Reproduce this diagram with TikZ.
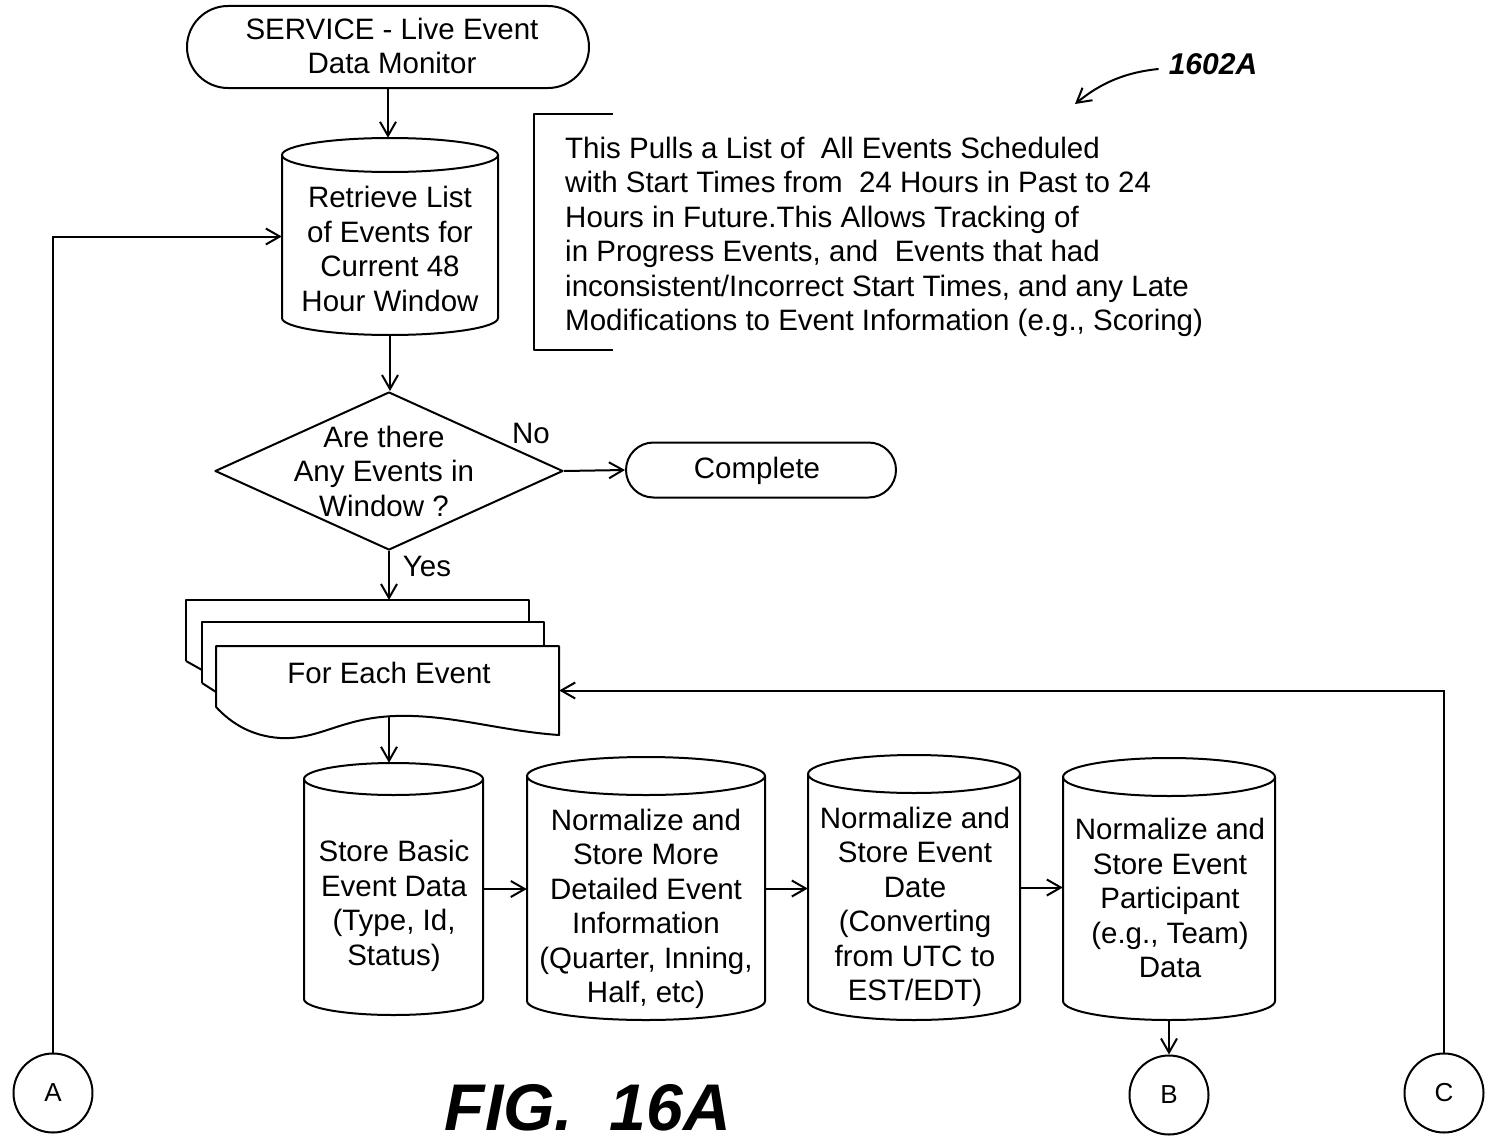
\documentclass[tikz,border=0pt]{standalone}
\usepackage{fontspec}
\setmainfont{Liberation Sans}
\usetikzlibrary{arrows.meta,shapes.geometric,shapes.misc}
\tikzset{
  outl/.style={draw, line width=2pt, line join=round},
  conn/.style={draw, line width=2pt, -{Straight Barb[length=14pt,width=16pt]}},
  txt/.style={font=\fontsize{29.5}{34.5}\selectfont, align=center, inner sep=0pt},
  term/.style={outl, rounded rectangle, inner sep=0pt},
  conncircle/.style={outl, circle, inner sep=0pt, minimum size=79pt, font=\fontsize{26}{30}\selectfont},
}
\newcommand\dbcyl[6]{%
  \pgfmathsetmacro\cylrx{(#3-#2)/2}%
  \pgfmathsetmacro\cylcx{(#2+#3)/2}%
  \pgfmathsetmacro\cylcy{(#4+#5)/2}%
  \pgfmathsetmacro\cylw{#3-#2}%
  \pgfmathsetmacro\cylh{#5-#4}%
  \draw[outl] (#2,#4+#6) -- (#2,#5-#6) arc[start angle=180,end angle=0,x radius=\cylrx,y radius=#6] -- (#3,#4+#6) arc[start angle=0,end angle=-180,x radius=\cylrx,y radius=#6] -- cycle;
  \draw[outl] (#2,#4+#6) arc[start angle=180,end angle=0,x radius=\cylrx,y radius=#6];
  \node[inner sep=0pt, minimum width=\cylw pt, minimum height=\cylh pt] (#1) at (\cylcx,\cylcy) {};
}
\begin{document}
\begin{tikzpicture}[x=1pt,y=-1pt]
\fill[white] (0,0) rectangle (1494,1148);
\useasboundingbox (0,0) rectangle (1494,1148);

% start terminal
\node[term, minimum width=402pt, minimum height=82pt] (start) at (388,47) {};
\node[txt] (startt) at (392,46) {SERVICE - Live Event\\Data Monitor};

% retrieve cylinder
\dbcyl{c0}{282}{498}{138}{335}{17}
\node[txt] (c0t) at (390,249) {Retrieve List\\of Events for\\Current 48\\Hour Window};

% annotation
\draw[outl] (613,114) -- (534,114) -- (534,350) -- (613,350);
\node[txt, align=left, anchor=west] (note) at (565,237) {This Pulls a List of\ \ All Events Scheduled\\with Start Times from\ \ 24 Hours in Past to 24\\Hours in Future.This Allows Tracking of\\in Progress Events, and\ \ Events that had\\inconsistent/Incorrect Start Times, and any Late\\Modifications to Event Information (e.g., Scoring)};

% reference label
\node[font=\fontsize{30}{36}\selectfont\bfseries\itshape, inner sep=0pt] (ref) at (1213,64) {1602A};
\coordinate (refend) at (1075,104);
\draw[conn] ([xshift=-10pt,yshift=-5pt]ref.west) .. controls (1118,73) and (1095,88) .. (refend);

% decision
\node[outl, diamond, minimum width=348pt, minimum height=158pt, inner sep=0pt] (dec) at (389,471) {};
\node[txt] (dect) at (384,471) {Are there\\Any Events in\\Window ?};
\node[term, minimum width=270pt, minimum height=55pt] (done) at (761,470) {};
\node[txt] (donet) at (757,471) {Complete};
\node[txt] (no) at (531,433) {No};
\node[txt] (yes) at (427,566) {Yes};

% multi-document
\draw[outl] (186,661) -- (186,600) -- (529,600) -- (529,622);
\draw[outl] (186,661) -- (202,670);
\draw[outl] (202,683) -- (202,622) -- (544,622) -- (544,646);
\draw[outl] (202,683) -- (216,692);
\draw[outl] (216,707) -- (216,646) -- (559,646) -- (559,735)
  .. controls (500,731) and (450,714) .. (395,716)
  .. controls (340,718) and (320,740) .. (280,738)
  .. controls (250,736) and (230,722) .. (216,707);
\node[inner sep=0pt, minimum width=343pt, minimum height=89pt] (fe) at (387.5,690.5) {};
\node[txt] (fet) at (389,673) {For Each Event};
\coordinate (dtop) at (389,600);
\coordinate (wv) at (389,717);

% store cylinders
\dbcyl{s1}{304}{483}{763}{1015}{16}
\node[txt] (s1t) at (394,906) {Store Basic\\Event Data\\(Type, Id,\\Status)};
\dbcyl{s2}{527}{765}{757}{1020}{19}
\node[txt] (s2t) at (646,909) {Normalize and\\Store More\\Detailed Event\\Information\\(Quarter, Inning,\\Half, etc)};
\dbcyl{s3}{808}{1020}{755}{1020}{19}
\node[txt] (s3t) at (915,907) {Normalize and\\Store Event\\Date\\(Converting\\from UTC to\\EST/EDT)};
\dbcyl{s4}{1063}{1275}{758}{1020}{19}
\node[txt] (s4t) at (1170,898) {Normalize and\\Store Event\\Participant\\(e.g., Team)\\Data};

% connector circles
\node[conncircle] (A) at (53,1093) {A};
\node[conncircle] (B) at (1169,1095) {B};
\node[conncircle] (C) at (1444,1093) {C};

% figure label
\node[font=\fontsize{66}{76}\selectfont\bfseries\itshape, inner sep=0pt] (fig) at (588,1108) {FIG.\ \ 16A};

% connectors
\draw[conn] (start.south) -- (start.south |- c0.north);
\draw[conn] (c0.south) -- (c0.south |- dec.north);
\draw[conn] (dec.east) -- (done.west);
\draw[conn] (dec.south) -- (dtop);
\draw[conn] (wv) -- (wv |- s1.north);
\draw[conn] (s1.east) -- (s1.east -| s2.west);
\draw[conn] (s2.east) -- (s2.east -| s3.west);
\draw[conn] (s3.east) -- (s3.east -| s4.west);
\draw[conn] (s4.south) -- (B.north);
\draw[conn] (A.north) |- (c0.west);
\draw[conn] (C.north) |- (fe.east);
\end{tikzpicture}
\end{document}
